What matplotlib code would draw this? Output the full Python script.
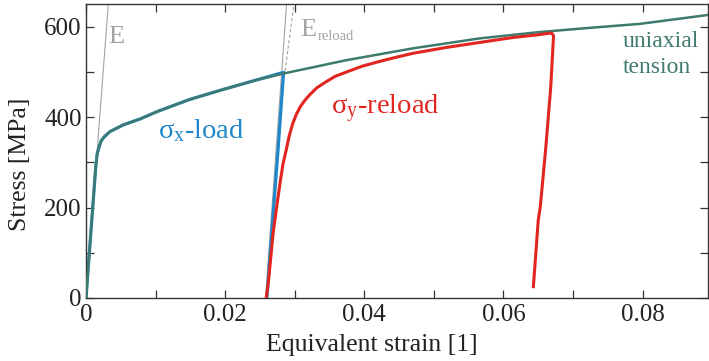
import matplotlib
matplotlib.use("Agg")
import matplotlib.pyplot as plt
from matplotlib.ticker import MultipleLocator, FixedLocator

plt.rcParams['font.family'] = ['Liberation Serif', 'DejaVu Serif']
plt.rcParams['mathtext.fontset'] = 'custom'
plt.rcParams['mathtext.rm'] = 'Liberation Serif'
plt.rcParams['mathtext.it'] = 'Liberation Serif:italic'

# ---- data ----
tension_strain = [0, 0.0007, 0.0014, 0.0016, 0.0019, 0.0022, 0.0026, 0.00345, 0.0054, 0.0078,
                  0.0102, 0.0149, 0.0197, 0.0245, 0.0286, 0.0375, 0.0470, 0.0566,
                  0.0652, 0.0730, 0.0796, 0.0895]
tension_stress = [0, 145, 290, 318, 335, 348, 356, 368, 383, 396,
                  412, 439, 461, 482, 497, 526, 552, 574,
                  588, 598, 606, 626]

load_strain = [0, 0.0007, 0.0014, 0.0016, 0.0019, 0.0022, 0.0026, 0.00345, 0.0054, 0.0078,
               0.0102, 0.0149, 0.0197, 0.0245, 0.0284, 0.0276, 0.0268, 0.0260]
load_stress = [0, 145, 290, 318, 335, 348, 356, 368, 383, 396,
               412, 439, 461, 482, 499, 328, 165, 0]

reload_strain = [0.0259, 0.0262, 0.0269, 0.0275, 0.0279, 0.0283, 0.0288, 0.0292, 0.0297,
                 0.0302, 0.0308, 0.0315, 0.0322, 0.0332, 0.0345, 0.0358, 0.0375, 0.0398,
                 0.0422, 0.0445, 0.0470, 0.0518, 0.0566, 0.0614, 0.0650, 0.0669, 0.0672,
                 0.0668, 0.0661, 0.0653, 0.0650, 0.0643]
reload_stress = [0, 33, 144, 212, 255, 295, 329, 358, 385,
                 405, 423, 438, 450, 465, 478, 490, 500, 513,
                 523, 532, 541, 554, 565, 576, 582, 586, 580,
                 467, 335, 202, 172, 25]

E_line_strain = [0, 0.0036]
E_line_stress = [0, 730]
Ereload_strain = [0.0258, 0.0292]
Ereload_stress = [0, 730]
Ereload_dash_strain = [0.0285, 0.0305]
Ereload_dash_stress = [490, 720]

x_major = [0, 0.02, 0.04, 0.06, 0.08]
x_labels = ['0', '0.02', '0.04', '0.06', '0.08']
y_major = [0, 200, 400, 600]

# ---- colors ----
c_teal = '#3f7a6e'
c_blue = '#1f87c9'
c_red = '#e1251f'
c_gray = '#a3a3a3'
c_ax = '#333333'

fig = plt.figure(figsize=(7.09, 3.61), dpi=100)
ax = fig.add_axes([86/709, 1 - 298/361, 622/709, 294/361])

ax.plot(E_line_strain, E_line_stress, color=c_gray, lw=0.8, zorder=1)
ax.plot(Ereload_strain, Ereload_stress, color=c_gray, lw=0.8, zorder=1)
ax.plot(Ereload_dash_strain, Ereload_dash_stress, color=c_gray, lw=0.8, ls=(0, (3, 2)), zorder=1)

ax.plot(load_strain, load_stress, color=c_blue, lw=2.3, zorder=2, solid_joinstyle='round')
ax.plot(tension_strain, tension_stress, color=c_teal, lw=1.8, zorder=3)
ax.plot(reload_strain, reload_stress, color=c_red, lw=2.2, zorder=4, solid_joinstyle='round')

ax.set_xlim(0, 0.0894)
ax.set_ylim(0, 650)

ax.xaxis.set_major_locator(FixedLocator(x_major))
ax.set_xticklabels(x_labels)
ax.xaxis.set_minor_locator(MultipleLocator(0.01))
ax.yaxis.set_major_locator(FixedLocator(y_major))
ax.yaxis.set_minor_locator(MultipleLocator(100))

ax.tick_params(which='both', direction='in', top=True, right=True, length=5.8,
               width=0.9, color=c_ax, labelsize=18, labelcolor='#222222')
ax.tick_params(axis='x', pad=4)
ax.tick_params(axis='y', pad=3)
for s in ax.spines.values():
    s.set_linewidth(1.0)
    s.set_color(c_ax)

ax.set_xlabel('Equivalent strain [1]', fontsize=18.5, color='#222222')
ax.xaxis.label.set_va('baseline')
ax.xaxis.set_label_coords((372 - 86) / 622, (298 - 351) / 294)
ax.set_ylabel('Stress [MPa]', fontsize=18.5, color='#222222')
ax.yaxis.label.set_va('baseline')
ax.yaxis.set_label_coords((26 - 86) / 622, (298 - 164) / 294)

def px(xp, yp):
    return (xp - 86) / 6959, (298 - yp) / 0.4522

ax.text(*px(108, 43), 'E', color=c_gray, fontsize=19, va='baseline', ha='left')
ax.text(*px(300, 36), 'E', color=c_gray, fontsize=19, va='baseline', ha='left')
ax.text(*px(318, 40), 'reload', color=c_gray, fontsize=10.5, va='baseline', ha='left')
ax.text(*px(158, 138), r'σ$_{\mathrm{x}}$-load', color=c_blue, fontsize=20.5, va='baseline', ha='left')
ax.text(*px(331, 114), r'σ$_{\mathrm{y}}$-reload', color=c_red, fontsize=20.5, va='baseline', ha='left')
ax.text(*px(623, 47), 'uniaxial', color=c_teal, fontsize=17, va='baseline', ha='left')
ax.text(*px(623, 73), 'tension', color=c_teal, fontsize=17, va='baseline', ha='left')

fig.savefig('out.png', dpi=100)
